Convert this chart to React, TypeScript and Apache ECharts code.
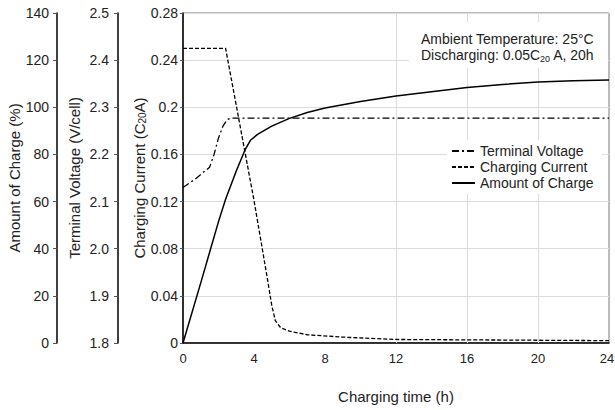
import React, { useEffect, useRef } from "react";
import * as echarts from "echarts";

const FONT = "Liberation Sans, Arial, Helvetica, sans-serif";

const xTicks = [0, 4, 8, 12, 16, 20, 24];
const verticalGridHours = [12, 16, 20];

const voltageTime = [0, 0.7, 1.5, 1.75, 2.0, 2.25, 2.5, 2.7, 24];
const voltageValues = [2.13, 2.148, 2.173, 2.2, 2.235, 2.26, 2.274, 2.277, 2.277];

const currentTime = [0, 2.4, 4, 4.75, 5.0, 5.2, 5.5, 6, 7, 9, 12, 24];
const currentValues = [0.25, 0.25, 0.121, 0.055, 0.032, 0.019, 0.013, 0.01, 0.007, 0.005, 0.003, 0.002];

const chargeTime = [0, 1, 2, 2.4, 3, 3.5, 3.8, 4.2, 5, 6, 7, 8, 10, 12, 14, 16, 18, 20, 22, 24];
const chargeValues = [0, 25.5, 51.5, 61, 73, 82, 86, 88.5, 92, 95.3, 97.8, 99.7, 102.5, 104.8, 106.6, 108.4, 109.7, 110.7, 111.3, 111.6];

const seriesNames = ["Terminal Voltage", "Charging Current", "Amount of Charge"];
const annotationLines = ["Ambient Temperature: 25°C", "Discharging: 0.05C{sub|20} A, 20h"];

const zip = (xs: number[], ys: number[]) => xs.map((x, i) => [x, ys[i]]);

export default function App() {
  const ref = useRef<HTMLDivElement>(null);
  useEffect(() => {
    if (!ref.current) return;
    const chart = echarts.init(ref.current, null, { renderer: "svg" });
    const labelStyle = { color: "#222", fontSize: 14, fontFamily: FONT };
    const nameStyle = {
      color: "#222",
      fontSize: 15,
      fontFamily: FONT,
    };
    const subNameStyle = {
      ...nameStyle,
      rich: { sub: { fontSize: 10, fontFamily: FONT, color: "#222", verticalAlign: "bottom", padding: [6, 0, 0, 0] } },
    };
    const hiddenItem = { color: "rgba(0,0,0,0)", opacity: 0 };
    const lastIndex = xTicks.length - 1;
    chart.setOption({
      animation: false,
      backgroundColor: "#fff",
      grid: {
        left: 183,
        right: 6,
        top: 13,
        bottom: 67,
        show: true,
        borderColor: "#777",
        borderWidth: 1,
        containLabel: false,
        outerBoundsMode: "none",
      },
      legend: {
        data: seriesNames,
        orient: "vertical",
        left: 447,
        top: 140,
        itemWidth: 23,
        itemHeight: 13,
        itemGap: 0,
        padding: [3, 8, 3, 4],
        backgroundColor: "#fff",
        itemStyle: { opacity: 0 },
        textStyle: { color: "#222", fontSize: 14, fontFamily: FONT, lineHeight: 16 },
        z: 20,
      },
      xAxis: {
        type: "value",
        min: 0,
        max: 24,
        interval: 4,
        name: "Charging time (h)",
        nameLocation: "middle",
        nameGap: 46,
        nameMoveOverlap: false,
        nameTextStyle: { color: "#222", fontSize: 15, fontFamily: FONT },
        axisLine: { show: true, lineStyle: { color: "#000", width: 1.5 } },
        axisTick: { show: false },
        axisLabel: {
          color: "#222",
          fontSize: 13,
          fontFamily: FONT,
          margin: 9,
          formatter: (v: number) =>
            v === xTicks[lastIndex] ? "{last|" + v + "}" : xTicks.includes(v) ? String(v) : "",
          rich: { last: { fontSize: 13, fontFamily: FONT, color: "#222", padding: [0, 4, 0, 0] } },
        },
        splitLine: { show: false },
      },
      yAxis: [
        {
          type: "value",
          position: "left",
          offset: 0,
          min: 0,
          max: 0.28,
          interval: 0.04,
          name: "Charging Current (C{sub|20}A)",
          nameLocation: "middle",
          nameRotate: 90,
          nameGap: 36,
          nameMoveOverlap: false,
          nameTextStyle: subNameStyle,
          axisLine: { show: true, lineStyle: { color: "#000", width: 1.5 } },
          axisTick: { show: true, length: 3, lineStyle: { color: "#555" } },
          axisLabel: { ...labelStyle, margin: 5, formatter: (v: number) => String(parseFloat(v.toFixed(2))) },
          splitLine: { show: true, lineStyle: { color: "#dcdcdc", width: 1 } },
        },
        {
          type: "value",
          position: "left",
          offset: 65,
          min: 1.8,
          max: 2.5,
          interval: 0.1,
          name: "Terminal Voltage (V/cell)",
          nameLocation: "middle",
          nameRotate: 90,
          nameGap: 36,
          nameMoveOverlap: false,
          nameTextStyle: nameStyle,
          axisLine: { show: true, lineStyle: { color: "#000", width: 1.5 } },
          axisTick: { show: true, length: 4, lineStyle: { color: "#555" } },
          axisLabel: { ...labelStyle, margin: 9, formatter: (v: number) => v.toFixed(1) },
          splitLine: { show: false },
        },
        {
          type: "value",
          position: "left",
          offset: 126,
          min: 0,
          max: 140,
          interval: 20,
          name: "Amount of Charge (%)",
          nameLocation: "middle",
          nameRotate: 90,
          nameGap: 35,
          nameMoveOverlap: false,
          nameTextStyle: nameStyle,
          axisLine: { show: true, lineStyle: { color: "#000", width: 1.5 } },
          axisTick: { show: true, length: 4, lineStyle: { color: "#555" } },
          axisLabel: { ...labelStyle, margin: 8 },
          splitLine: { show: false },
        },
      ],
      series: [
        {
          name: seriesNames[0],
          type: "line",
          yAxisIndex: 1,
          data: zip(voltageTime, voltageValues),
          showSymbol: false,
          symbol: "none",
          lineStyle: { color: "#000", width: 1.3, type: [7, 3, 2, 3] },
          itemStyle: hiddenItem,
          z: 5,
        },
        {
          name: seriesNames[1],
          type: "line",
          yAxisIndex: 0,
          data: zip(currentTime, currentValues),
          showSymbol: false,
          symbol: "none",
          lineStyle: { color: "#000", width: 1.3, type: [4, 2] },
          itemStyle: hiddenItem,
          z: 5,
          markLine: {
            silent: true,
            symbol: "none",
            label: { show: false },
            lineStyle: { color: "#dcdcdc", width: 1, type: "solid" },
            data: verticalGridHours.map((h) => ({ xAxis: h })),
            z: 1,
          },
        },
        {
          name: seriesNames[2],
          type: "line",
          yAxisIndex: 2,
          data: zip(chargeTime, chargeValues),
          showSymbol: false,
          symbol: "none",
          lineStyle: { color: "#000", width: 1.5, type: "solid" },
          itemStyle: hiddenItem,
          z: 5,
        },
      ],
      graphic: [
        {
          type: "rect",
          z: 15,
          shape: { x: 409, y: 22, width: 199, height: 46 },
          style: { fill: "#fff" },
        },
        {
          type: "text",
          z: 16,
          left: 421,
          top: 31,
          style: {
            text: annotationLines.join("\n"),
            fontSize: 14,
            fontFamily: FONT,
            fill: "#222",
            lineHeight: 16,
            rich: {
              sub: { fontSize: 9, fontFamily: FONT, fill: "#222", verticalAlign: "bottom", lineHeight: 16, padding: [5, 0, 0, 0] },
            },
          },
        },
      ],
    });
    return () => chart.dispose();
  }, []);
  return (
    <div
      ref={ref}
      style={{ position: "absolute", left: 0, top: 0, width: 615, height: 410 }}
    />
  );
}
